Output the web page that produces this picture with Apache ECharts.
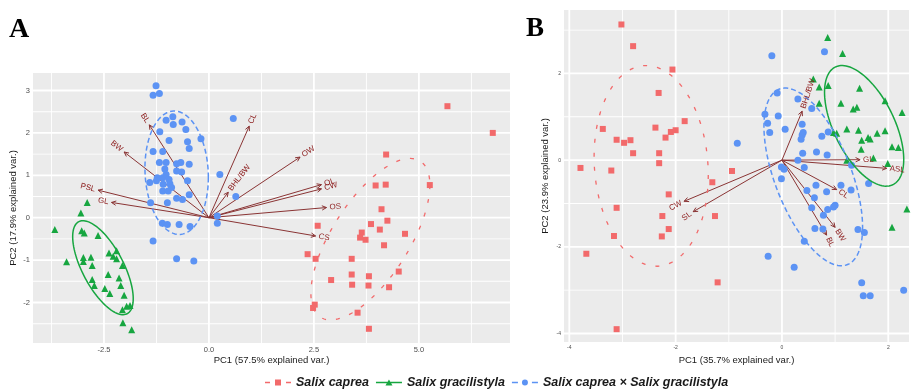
<!DOCTYPE html>
<html>
<head>
<meta charset="utf-8">
<script src="https://cdn.jsdelivr.net/npm/echarts@6/dist/echarts.min.js"></script>
<style>
  html, body { margin: 0; padding: 0; background: #fff; }
  #chart { width: 912px; height: 392px; }
</style>
</head>
<body>
<div id="chart"></div>
<script>
// ---- panel A: PC scores ----
const aCaprea = [[5.68,2.63],[6.76,2.00],[4.22,1.49],[3.97,0.76],[4.21,0.78],[5.26,0.77],[4.11,0.20],[4.25,-0.07],[3.86,-0.15],[4.07,-0.28],[3.64,-0.35],[3.60,-0.47],[3.73,-0.52],[4.67,-0.38],[2.59,-0.19],[4.17,-0.65],[2.35,-0.86],[2.54,-0.97],[3.40,-0.97],[3.40,-1.34],[3.81,-1.38],[2.91,-1.47],[3.41,-1.58],[3.80,-1.60],[4.52,-1.27],[4.29,-1.64],[2.52,-2.05],[2.48,-2.13],[3.54,-2.24],[3.81,-2.62]];
const aGrac = [[-2.90,0.36],[-3.05,0.11],[-3.67,-0.28],[-3.03,-0.31],[-2.97,-0.36],[-2.64,-0.42],[-3.39,-1.04],[-2.99,-0.94],[-2.81,-0.93],[-2.99,-1.03],[-2.78,-1.13],[-2.38,-0.83],[-2.20,-0.78],[-2.28,-0.91],[-2.20,-0.97],[-2.06,-1.13],[-2.40,-1.34],[-2.14,-1.42],[-2.78,-1.46],[-2.73,-1.60],[-2.48,-1.67],[-2.36,-1.79],[-2.10,-1.60],[-2.02,-1.83],[-2.06,-2.17],[-1.96,-2.09],[-1.88,-2.07],[-2.05,-2.48],[-1.84,-2.64]];
const aHybrid = [[-1.26,3.11],[-1.33,2.89],[-1.18,2.93],[-1.02,2.30],[-0.86,2.38],[-0.85,2.20],[-0.64,2.26],[-1.17,2.03],[-0.55,2.08],[-0.19,1.86],[-0.95,1.82],[-0.51,1.79],[-0.47,1.63],[-1.33,1.56],[-1.10,1.56],[-1.18,1.30],[-1.02,1.30],[-0.77,1.27],[-0.67,1.30],[-0.47,1.26],[-0.77,1.10],[-0.65,1.08],[-1.23,0.94],[-1.10,0.94],[-1.02,1.02],[-1.41,0.83],[-1.25,0.87],[-1.09,0.79],[-0.93,0.80],[-1.10,0.63],[-0.97,0.63],[-0.89,0.71],[-0.51,0.87],[-0.47,0.54],[-0.77,0.46],[-0.63,0.43],[-1.39,0.35],[-0.99,0.35],[-1.11,-0.13],[-0.99,-0.16],[-0.71,-0.16],[-0.45,-0.21],[-1.33,-0.55],[-0.77,-0.97],[-0.36,-1.02],[0.58,2.34],[0.26,1.02],[0.64,0.50],[0.20,0.04],[0.20,-0.13],[-1.05,1.15],[-0.95,0.90]];

// loadings (arrow tips)
const aVarNames = ['BL','BW','PSL','GL','CL','BHL/BW','OW','OL','CW','OS','CS'];
const aVarX = [-1.42,-2.02,-2.64,-2.32,0.96,0.46,2.17,2.68,2.68,2.80,2.54];
const aVarY = [2.19,1.55,0.65,0.36,2.16,0.60,1.43,0.78,0.68,0.24,-0.43];

// ellipses: centre, two conjugate half-axes [cx, cy, ux, uy, vx, vy]
const aEllipses = [[3.845,-0.507,1.417,1.276,0,-1.415],[-2.524,-1.179,0.721,-0.731,0,-0.833],[-0.769,1.061,0.755,-0.111,0,-1.451]];

const aTicksX = [-2.5, 0, 2.5, 5.0];
const aMinorX = [-3.75, -1.25, 1.25, 3.75, 6.25];
const aTicksY = [-2, -1, 0, 1, 2, 3];
const aMinorY = [-2.5, -1.5, -0.5, 0.5, 1.5, 2.5];

// ---- panel B ----
const bCaprea = [[-3.02,3.13],[-2.80,2.63],[-2.06,2.09],[-2.32,1.55],[-1.83,0.90],[-3.37,0.72],[-2.38,0.75],[-2.19,0.52],[-2.09,0.65],[-2.00,0.69],[-3.11,0.47],[-2.97,0.40],[-2.85,0.46],[-2.80,0.16],[-2.31,0.16],[-2.31,-0.07],[-3.79,-0.18],[-3.21,-0.24],[-1.31,-0.51],[-2.13,-0.79],[-3.11,-1.10],[-2.25,-1.29],[-1.26,-1.29],[-2.13,-1.59],[-2.26,-1.76],[-3.16,-1.75],[-3.68,-2.16],[-1.21,-2.82],[-3.11,-3.90],[-0.94,-0.25]];
const bGrac = [[0.86,2.83],[1.14,2.46],[0.59,1.87],[0.70,1.69],[0.87,1.72],[1.46,1.66],[1.94,1.37],[2.26,1.10],[0.70,1.31],[1.11,1.31],[1.34,1.18],[1.41,1.22],[1.03,0.62],[1.22,0.72],[1.44,0.69],[1.50,0.46],[1.62,0.52],[1.66,0.49],[1.79,0.62],[1.94,0.68],[1.49,0.25],[2.07,0.31],[2.19,0.29],[1.72,0.05],[1.22,0.00],[1.99,-0.08],[2.35,-1.13],[2.07,-1.55],[0.97,0.64]];
const bHybrid = [[-0.19,2.41],[0.80,2.50],[-0.09,1.55],[0.30,1.41],[0.56,1.19],[-0.32,1.06],[-0.07,1.02],[-0.27,0.85],[0.06,0.71],[-0.23,0.64],[0.38,0.83],[0.40,0.64],[0.38,0.58],[0.36,0.48],[0.75,0.55],[0.87,0.65],[-0.84,0.39],[0.39,0.16],[0.65,0.19],[0.85,0.12],[0.30,0.00],[-0.01,-0.16],[0.04,-0.21],[0.42,-0.17],[1.31,-0.12],[-0.01,-0.43],[1.63,-0.54],[1.11,-0.58],[1.30,-0.69],[0.64,-0.58],[0.84,-0.73],[0.47,-0.70],[0.61,-0.87],[1.00,-1.04],[0.97,-1.08],[0.56,-1.10],[0.86,-1.14],[0.78,-1.27],[0.62,-1.58],[0.77,-1.59],[1.43,-1.60],[1.55,-1.67],[0.42,-1.87],[-0.26,-2.22],[0.23,-2.47],[1.50,-2.83],[1.53,-3.13],[1.66,-3.13],[2.29,-3.00]];

const bVarNames = ['BHL/BW','GL','ASL','CL','BW','BL','CW','SL'];
const bVarX = [0.38,1.47,1.97,1.03,1.00,0.84,-1.84,-1.67];
const bVarY = [1.13,0.01,-0.19,-0.68,-1.55,-1.73,-0.95,-1.19];

const bEllipses = [[-2.460,-0.133,1.074,-0.208,0,-2.306],[1.546,0.791,0.745,-0.776,0,-1.155],[0.589,-0.387,0.928,-1.166,0,-1.686]];

const bTicksX = [-4, -2, 0, 2];
const bMinorX = [-3, -1, 1];
const bTicksY = [-4, -2, 0, 2];
const bMinorY = [-3, -1, 1, 3];

const groupNames = ['Salix caprea', 'Salix gracilistyla', 'Salix caprea \u00d7 Salix gracilistyla'];
const groupColors = ['#F26A6B', '#17A640', '#5C93F4'];
const ellipseDash = [[4, 10], null, [5, 3]];
const ellipseWidth = [1.3, 1.5, 1.5];
const arrowColor = '#8A3434';
const varColor = '#8B1A1A';
const FONT = 'Liberation Sans';

// grey panel with white major/minor grid lines
function gridRenderer(majX, minX, majY, minY) {
  return function (params, api) {
    const cs = params.coordSys;
    const children = [{ type: 'rect', z2: -10, shape: { x: cs.x, y: cs.y, width: cs.width, height: cs.height },
                        style: { fill: '#EBEBEB', stroke: null } }];
    const vline = (v, w) => {
      const x = api.coord([v, 0])[0];
      children.push({ type: 'rect', z2: 5, shape: { x: x - w / 2, y: cs.y, width: w, height: cs.height }, style: { fill: '#ffffff', stroke: null } });
    };
    const hline = (v, w) => {
      const y = api.coord([0, v])[1];
      children.push({ type: 'rect', z2: 5, shape: { x: cs.x, y: y - w / 2, width: cs.width, height: w }, style: { fill: '#ffffff', stroke: null } });
    };
    minX.forEach(v => vline(v, 0.9));
    minY.forEach(v => hline(v, 0.9));
    majX.forEach(v => vline(v, 1.8));
    majY.forEach(v => hline(v, 1.8));
    return { type: 'group', children: children };
  };
}

function renderArrow(params, api) {
  const o = api.coord([0, 0]);
  const p = api.coord([api.value(0), api.value(1)]);
  const ang = Math.atan2(p[1] - o[1], p[0] - o[0]);
  const h = 5, w = Math.PI / 7;
  return {
    type: 'group',
    children: [
      { type: 'line', shape: { x1: o[0], y1: o[1], x2: p[0], y2: p[1] }, style: { stroke: arrowColor, lineWidth: 1 } },
      { type: 'polyline', shape: { points: [
          [p[0] - h * Math.cos(ang - w), p[1] - h * Math.sin(ang - w)], p,
          [p[0] - h * Math.cos(ang + w), p[1] - h * Math.sin(ang + w)]] },
        style: { stroke: arrowColor, lineWidth: 1, fill: null } }
    ]
  };
}

function labelRenderer(names) {
  return function (params, api) {
    const x = api.value(0), y = api.value(1);
    const p = api.coord([x, y]);
    const a = Math.atan(y / x);
    const dir = x >= 0 ? 1 : -1;
    const off = 3;
    return {
      type: 'text',
      x: p[0] + dir * off * Math.cos(a),
      y: p[1] - dir * off * Math.sin(a),
      rotation: a,
      style: { text: names[params.dataIndex], fill: varColor, fontSize: 8, fontFamily: FONT,
               align: dir > 0 ? 'left' : 'right', verticalAlign: 'middle' }
    };
  };
}

function renderEllipse(params, api) {
  const c = [0, 1, 2, 3, 4, 5].map(i => api.value(i));
  const pts = [];
  for (let i = 0; i <= 120; i++) {
    const t = i / 120 * Math.PI * 2;
    pts.push(api.coord([c[0] + c[2] * Math.cos(t) + c[4] * Math.sin(t),
                        c[1] + c[3] * Math.cos(t) + c[5] * Math.sin(t)]));
  }
  const k = params.dataIndex;
  return { type: 'polyline', shape: { points: pts },
           style: { stroke: groupColors[k], lineWidth: ellipseWidth[k], lineDash: ellipseDash[k], fill: null } };
}

function zipVars(xs, ys) { return xs.map((x, i) => [x, ys[i]]); }

function panelSeries(idx, pts, varX, varY, varNames, ells, gridVals) {
  const ax = { xAxisIndex: idx, yAxisIndex: idx, coordinateSystem: 'cartesian2d' };
  const symbols = ['rect', 'triangle', 'circle'];
  const sizes = [6, 7, 7];
  const out = [
    Object.assign({ type: 'custom', name: 'panelgrid' + idx, z: 1, silent: true,
                    renderItem: gridRenderer.apply(null, gridVals), data: [[0.1, 0.1]] }, ax),
    Object.assign({ type: 'custom', name: 'arrows' + idx, z: 2, silent: true, renderItem: renderArrow, data: zipVars(varX, varY) }, ax)
  ];
  pts.forEach((d, k) => {
    out.push(Object.assign({
      type: 'scatter', name: groupNames[k], z: 3, symbol: symbols[k], symbolSize: sizes[k],
      itemStyle: { color: groupColors[k], opacity: 1 }, emphasis: { disabled: true }, data: d
    }, ax));
  });
  out.push(Object.assign({ type: 'custom', name: 'ellipse' + idx, z: 4, silent: true, renderItem: renderEllipse, data: ells }, ax));
  out.push(Object.assign({ type: 'custom', name: 'vars' + idx, z: 5, silent: true, renderItem: labelRenderer(varNames), data: zipVars(varX, varY) }, ax));
  return out;
}

function valueAxis(gridIndex, min, max, ticks, fmt, fontSize, name, nameGap) {
  return {
    type: 'value', gridIndex: gridIndex, min: min, max: max,
    axisLine: { show: false },
    splitLine: { show: false },
    axisTick: { show: true, customValues: ticks, length: 2.5, lineStyle: { color: '#333', width: 0.8 } },
    axisLabel: { customValues: ticks, formatter: fmt, fontSize: fontSize, color: '#4D4D4D', margin: 3, fontFamily: FONT },
    name: name, nameLocation: 'middle', nameGap: nameGap, nameMoveOverlap: false,
    nameTextStyle: { fontSize: 9.5, color: '#1a1a1a', fontFamily: FONT }
  };
}

const legendIcons = [
  'path://M0,2.3h5v1.4h-5z M10,0h6v6h-6z M21,2.3h5v1.4h-5z',
  'path://M0,2.3h26v1.4h-26z M9.5,6L13,0L16.5,6z',
  'path://M0,2.3h6v1.4h-6z M20,2.3h6v1.4h-6z M10,3a3,3 0 1,0 6,0a3,3 0 1,0 -6,0z'
];

const chart = echarts.init(document.getElementById('chart'));
chart.setOption({
  animation: false,
  backgroundColor: '#ffffff',
  title: [
    { text: 'A', left: 9, top: 16, padding: 0, textStyle: { fontFamily: 'Liberation Serif', fontWeight: 'bold', fontSize: 28, color: '#000' } },
    { text: 'B', left: 526, top: 16, padding: 0, textStyle: { fontFamily: 'Liberation Serif', fontWeight: 'bold', fontSize: 27, color: '#000' } }
  ],
  legend: {
    left: 265, top: 376, itemWidth: 26, itemHeight: 6, itemGap: 7, padding: 0,
    selectedMode: false,
    textStyle: { fontSize: 12.5, fontWeight: 'bold', fontStyle: 'italic', color: '#1a1a1a', fontFamily: FONT },
    data: groupNames.map((n, i) => ({ name: n, icon: legendIcons[i] }))
  },
  grid: [
    { left: 33, top: 73, width: 477, height: 270, show: false },
    { left: 564, top: 10, width: 345, height: 332, show: false }
  ],
  xAxis: [
    valueAxis(0, -4.19, 7.17, aTicksX, v => v.toFixed(1), 7.5, 'PC1 (57.5% explained var.)', 12),
    valueAxis(1, -4.10, 2.39, bTicksX, v => String(v), 5, 'PC1 (35.7% explained var.)', 13)
  ],
  yAxis: [
    valueAxis(0, -2.955, 3.413, aTicksY, v => String(v), 7.5, 'PC2 (17.9% explained var.)', 15),
    valueAxis(1, -4.196, 3.464, bTicksY, v => String(v), 5, 'PC2 (23.9% explained var.)', 14)
  ],
  series: [].concat(
    panelSeries(0, [aCaprea, aGrac, aHybrid], aVarX, aVarY, aVarNames, aEllipses, [aTicksX, aMinorX, aTicksY, aMinorY]),
    panelSeries(1, [bCaprea, bGrac, bHybrid], bVarX, bVarY, bVarNames, bEllipses, [bTicksX, bMinorX, bTicksY, bMinorY])
  )
});
</script>
</body>
</html>
